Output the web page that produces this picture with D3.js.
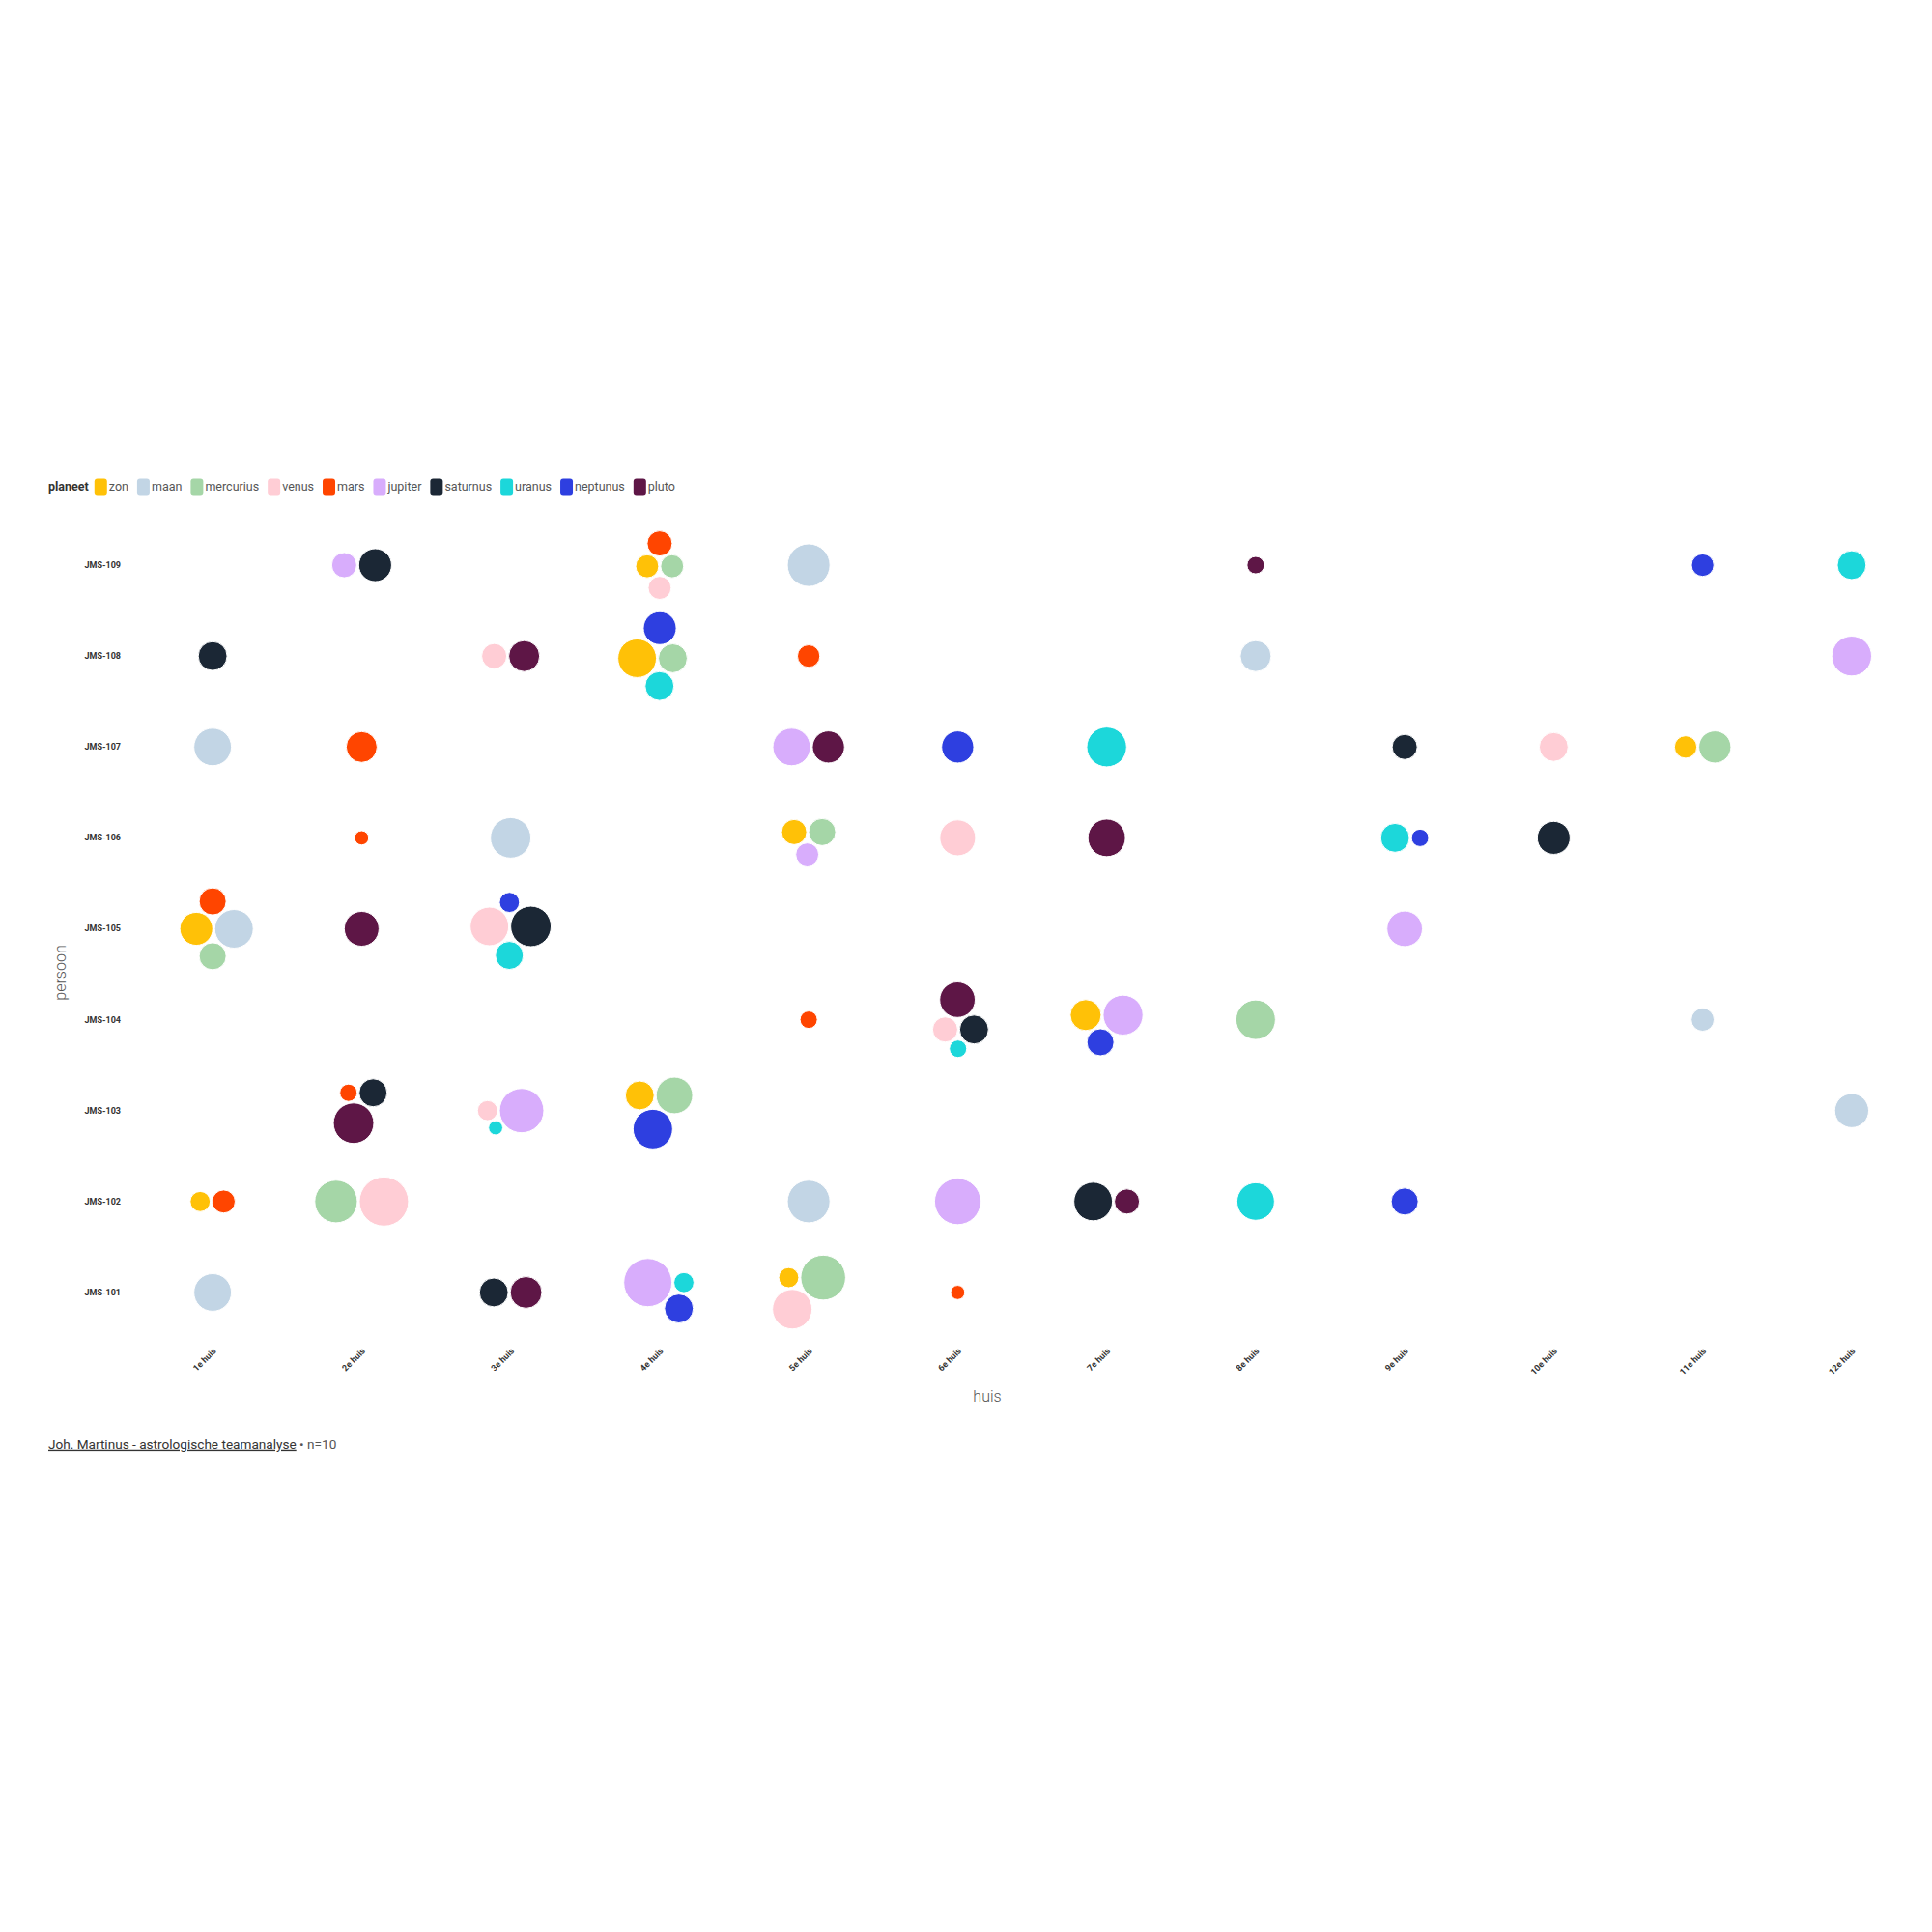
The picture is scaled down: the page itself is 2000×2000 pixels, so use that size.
<!DOCTYPE html>
<html><head><meta charset="utf-8">
<script src="https://cdn.jsdelivr.net/npm/d3@7"></script>
<style>
body{margin:0;background:#fff}
svg{display:block;font-family:Roboto,"Noto Sans",sans-serif}
</style>
</head><body>
<svg id="chart" width="2000" height="2000"></svg>
<script>
// ---- data ----
const persons = ["JMS-101","JMS-102","JMS-103","JMS-104","JMS-105","JMS-106","JMS-107","JMS-108","JMS-109"];
const houses = ["1e huis","2e huis","3e huis","4e huis","5e huis","6e huis","7e huis","8e huis","9e huis","10e huis","11e huis","12e huis"];
const planets = ["zon","maan","mercurius","venus","mars","jupiter","saturnus","uranus","neptunus","pluto"];
const planetColors = ["#FFC107","#C2D5E5","#A5D6A7","#FFCDD5","#FF4500","#D8ADFC","#1B2735","#1CD7DA","#2E3FE0","#5E1646"];

// house number per person (JMS-101 ... JMS-109)
const huisZon       = [5, 1, 4, 7, 1, 5, 11, 4, 4];
const huisMaan      = [1, 5, 12, 11, 1, 3, 1, 8, 5];
const huisMercurius = [5, 2, 4, 8, 1, 5, 11, 4, 4];
const huisVenus     = [5, 2, 3, 6, 3, 6, 10, 3, 4];
const huisMars      = [6, 1, 2, 5, 1, 2, 2, 5, 4];
const huisJupiter   = [4, 6, 3, 7, 9, 5, 5, 12, 2];
const huisSaturnus  = [3, 7, 2, 6, 3, 10, 9, 1, 2];
const huisUranus    = [4, 8, 3, 6, 3, 9, 7, 4, 12];
const huisNeptunus  = [4, 9, 4, 7, 3, 9, 6, 4, 11];
const huisPluto     = [3, 7, 2, 6, 2, 7, 5, 3, 8];

// bubble size per person (JMS-101 ... JMS-109)
const sterkteZon       = [16, 16, 33, 38, 43, 25, 20, 59, 21];
const sterkteMaan      = [56, 72, 46, 21, 59, 65, 56, 38, 72];
const sterkteMercurius = [80, 72, 53, 62, 29, 29, 41, 33, 21];
const sterkteVenus     = [62, 96, 16, 25, 59, 51, 33, 25, 21];
const sterkteMars      = [8, 21, 12, 12, 29, 8, 38, 20, 25];
const sterkteJupiter   = [92, 85, 78, 63, 50, 21, 56, 63, 25];
const sterkteSaturnus  = [33, 59, 31, 33, 65, 43, 25, 33, 43];
const sterkteUranus    = [16, 56, 8, 12, 31, 33, 63, 33, 33];
const sterkteNeptunus  = [33, 29, 62, 29, 16, 12, 41, 43, 20];
const sterktePluto     = [40, 25, 65, 50, 48, 56, 41, 38, 12];

const houseTable = [huisZon,huisMaan,huisMercurius,huisVenus,huisMars,huisJupiter,huisSaturnus,huisUranus,huisNeptunus,huisPluto];
const sizeTable  = [sterkteZon,sterkteMaan,sterkteMercurius,sterkteVenus,sterkteMars,sterkteJupiter,sterkteSaturnus,sterkteUranus,sterkteNeptunus,sterktePluto];

// ---- build records ----
const records = [];
planets.forEach((pl, pi) => {
  persons.forEach((ps, i) => {
    records.push({person: ps, planet: pl, pi, house: houses[houseTable[pi][i] - 1], value: sizeTable[pi][i]});
  });
});

const svg = d3.select("#chart");
const x = d3.scaleBand().domain(houses).range([143, 1994]);
const y = d3.scaleBand().domain(persons.slice().reverse()).range([538, 1385]);
const r = d3.scaleSqrt().domain([0, 100]).range([0, 26]);
const color = d3.scaleOrdinal().domain(planets).range(planetColors);

// ---- legend ----
const legend = svg.append("g").attr("transform", "translate(50,504)");
let lx = 0;
const lt = legend.append("text").attr("x", lx).attr("dy", "0.35em")
  .style("font-size", "12.5px").style("font-weight", 700).attr("fill", "#333").text("planeet");
lx += lt.node().getComputedTextLength() + 6;
planets.forEach(pl => {
  legend.append("rect").attr("x", lx).attr("y", -8.5).attr("width", 13).attr("height", 17)
    .attr("rx", 3).attr("fill", color(pl));
  lx += 15;
  const t = legend.append("text").attr("x", lx).attr("dy", "0.35em")
    .style("font-size", "12.5px").attr("fill", "#555").text(pl);
  lx += t.node().getComputedTextLength() + 9;
});

// ---- axes ----
const yAxis = svg.append("g").attr("transform", `translate(${x.range()[0]},0)`)
  .call(d3.axisLeft(y).tickSize(0).tickPadding(18));
yAxis.select(".domain").remove();
yAxis.selectAll("text").style("font-size", "9px").style("font-weight", 700)
  .style("font-family", "Roboto, sans-serif").attr("fill", "#333");

const xAxis = svg.append("g").attr("transform", `translate(0,${y.range()[1]})`)
  .call(d3.axisBottom(x).tickSize(0));
xAxis.select(".domain").remove();
xAxis.selectAll("text").attr("x", 0).attr("y", 0).attr("dy", "0.35em")
  .attr("transform", "translate(2,12) rotate(-45)").attr("text-anchor", "end")
  .style("font-size", "9px").style("font-weight", 700)
  .style("font-family", "Roboto, sans-serif").attr("fill", "#333");

svg.append("text").attr("x", 1022).attr("y", 1445).attr("dy", "0.35em")
  .attr("text-anchor", "middle").style("font-size", "16px").style("font-weight", 300)
  .attr("fill", "#555").text("huis");
svg.append("text").attr("transform", "translate(62,1007) rotate(-90)").attr("dy", "0.35em")
  .attr("text-anchor", "middle").style("font-size", "16px").style("font-weight", 300)
  .attr("fill", "#555").text("persoon");

// ---- packed bubbles ----
const pad = 1;
const groups = d3.groups(records, d => d.person, d => d.house);
const nodes = [];
groups.forEach(([ps, byHouse]) => {
  byHouse.forEach(([hs, items]) => {
    items.sort((a, b) => a.pi - b.pi);
    const circles = items.map(d => ({d, r: r(d.value) + pad}));
    d3.packSiblings(circles);
    const enc = d3.packEnclose(circles);
    const cx = x(hs) + x.bandwidth() / 2, cy = y(ps) + y.bandwidth() / 2;
    circles.forEach(c => nodes.push({...c.d, cx: cx + c.x - enc.x, cy: cy + c.y - enc.y, rr: c.r - pad}));
  });
});

svg.append("g").selectAll("circle").data(nodes).join("circle")
  .attr("cx", d => d.cx).attr("cy", d => d.cy).attr("r", d => d.rr)
  .attr("fill", d => color(d.planet)).attr("stroke", "#fff").attr("stroke-width", 1);

// ---- footer ----
const foot = svg.append("text").attr("x", 50).attr("y", 1495).attr("dy", "0.35em")
  .style("font-size", "13.6px").attr("fill", "#444");
foot.append("tspan").style("text-decoration", "underline").attr("fill", "#333")
  .text("Joh. Martinus - astrologische teamanalyse");
foot.append("tspan").attr("fill", "#555").text(" \u2022 n=10");
</script>
</body></html>
